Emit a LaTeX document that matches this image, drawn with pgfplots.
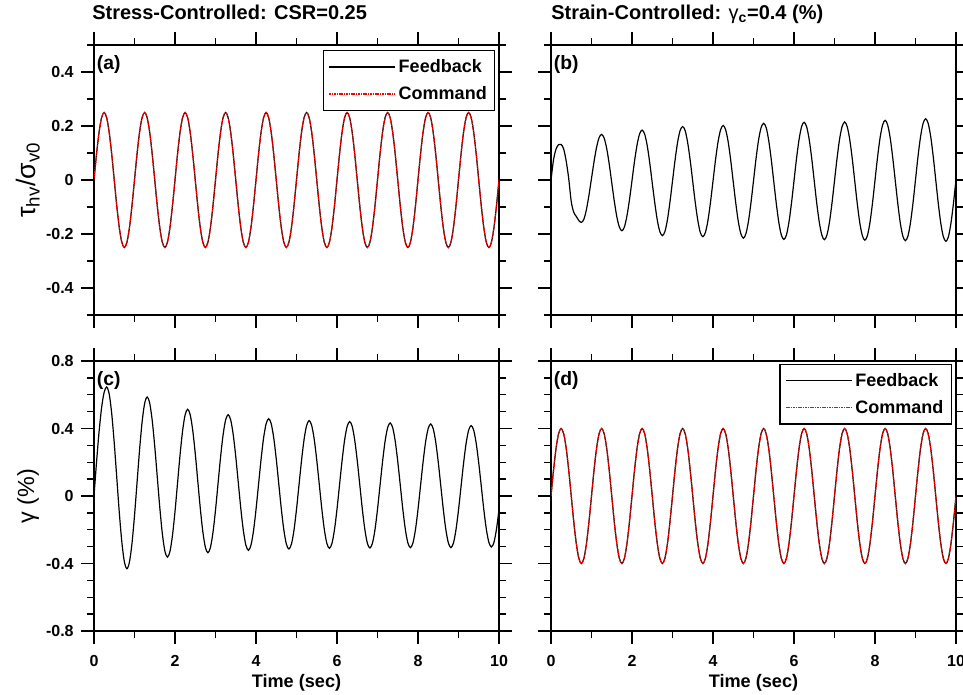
\documentclass[border=0pt]{standalone}
\usepackage{fontspec}
\setmainfont{Liberation Sans}
\usepackage{pgfplots}
\pgfplotsset{compat=1.18}
\usepackage{pgfplotstable}

% t: time (sec); a: tau/sigma (stress-controlled); b: tau/sigma (strain-controlled)
% c: gamma % (stress-controlled); d: gamma % (strain-controlled)
\pgfplotstableread{
t a b c d
0 0 0 0 0
0.0625 0.0957 0.075 0.200 0.1531
0.125 0.1768 0.115 0.380 0.2828
0.1875 0.2310 0.131 0.523 0.3696
0.25 0.2500 0.132 0.614 0.4000
0.3125 0.2310 0.115 0.646 0.3696
0.375 0.1768 0.070 0.605 0.2828
0.4375 0.0957 0.005 0.488 0.1531
0.5 0 -0.080 0.314 0
0.5625 -0.0957 -0.120 0.108 -0.1531
0.625 -0.1768 -0.135 -0.099 -0.2828
0.6875 -0.2310 -0.150 -0.273 -0.3696
0.75 -0.2500 -0.157 -0.390 -0.4000
0.8125 -0.2310 -0.145 -0.431 -0.3696
0.875 -0.1768 -0.109 -0.392 -0.2828
0.9375 -0.0957 -0.056 -0.282 -0.1531
1.0 0 0.006 -0.117 0
1.0625 0.0957 0.068 0.078 0.1531
1.125 0.1768 0.121 0.273 0.2828
1.1875 0.2310 0.157 0.438 0.3696
1.25 0.2500 0.169 0.548 0.4000
1.3125 0.2310 0.155 0.587 0.3696
1.375 0.1768 0.117 0.551 0.2828
1.4375 0.0957 0.059 0.448 0.1531
1.5 0 -0.010 0.294 0
1.5625 -0.0957 -0.078 0.113 -0.1531
1.625 -0.1768 -0.136 -0.069 -0.2828
1.6875 -0.2310 -0.174 -0.223 -0.3696
1.75 -0.2500 -0.188 -0.326 -0.4000
1.8125 -0.2310 -0.174 -0.362 -0.3696
1.875 -0.1768 -0.133 -0.329 -0.2828
1.9375 -0.0957 -0.073 -0.234 -0.1531
2.0 0 -0.002 -0.092 0
2.0625 0.0957 0.070 0.076 0.1531
2.125 0.1768 0.130 0.244 0.2828
2.1875 0.2310 0.171 0.386 0.3696
2.25 0.2500 0.185 0.481 0.4000
2.3125 0.2310 0.170 0.514 0.3696
2.375 0.1768 0.128 0.482 0.2828
2.4375 0.0957 0.064 0.390 0.1531
2.5 0 -0.011 0.252 0
2.5625 -0.0957 -0.085 0.089 -0.1531
2.625 -0.1768 -0.149 -0.074 -0.2828
2.6875 -0.2310 -0.191 -0.212 -0.3696
2.75 -0.2500 -0.206 -0.304 -0.4000
2.8125 -0.2310 -0.191 -0.336 -0.3696
2.875 -0.1768 -0.147 -0.305 -0.2828
2.9375 -0.0957 -0.081 -0.216 -0.1531
3.0 0 -0.004 -0.084 0
3.0625 0.0957 0.073 0.073 0.1531
3.125 0.1768 0.139 0.230 0.2828
3.1875 0.2310 0.183 0.362 0.3696
3.25 0.2500 0.198 0.451 0.4000
3.3125 0.2310 0.183 0.482 0.3696
3.375 0.1768 0.138 0.451 0.2828
3.4375 0.0957 0.072 0.364 0.1531
3.5 0 -0.006 0.234 0
3.5625 -0.0957 -0.084 0.080 -0.1531
3.625 -0.1768 -0.150 -0.074 -0.2828
3.6875 -0.2310 -0.195 -0.204 -0.3696
3.75 -0.2500 -0.210 -0.291 -0.4000
3.8125 -0.2310 -0.194 -0.322 -0.3696
3.875 -0.1768 -0.150 -0.292 -0.2828
3.9375 -0.0957 -0.083 -0.208 -0.1531
4.0 0 -0.004 -0.081 0
4.0625 0.0957 0.075 0.068 0.1531
4.125 0.1768 0.142 0.217 0.2828
4.1875 0.2310 0.186 0.344 0.3696
4.25 0.2500 0.202 0.428 0.4000
4.3125 0.2310 0.186 0.458 0.3696
4.375 0.1768 0.141 0.429 0.2828
4.4375 0.0957 0.073 0.345 0.1531
4.5 0 -0.007 0.220 0
4.5625 -0.0957 -0.086 0.072 -0.1531
4.625 -0.1768 -0.154 -0.076 -0.2828
4.6875 -0.2310 -0.199 -0.201 -0.3696
4.75 -0.2500 -0.215 -0.285 -0.4000
4.8125 -0.2310 -0.199 -0.314 -0.3696
4.875 -0.1768 -0.153 -0.285 -0.2828
4.9375 -0.0957 -0.084 -0.203 -0.1531
5.0 0 -0.003 -0.079 0
5.0625 0.0957 0.079 0.067 0.1531
5.125 0.1768 0.148 0.212 0.2828
5.1875 0.2310 0.194 0.336 0.3696
5.25 0.2500 0.210 0.418 0.4000
5.3125 0.2310 0.194 0.447 0.3696
5.375 0.1768 0.147 0.418 0.2828
5.4375 0.0957 0.077 0.336 0.1531
5.5 0 -0.005 0.213 0
5.5625 -0.0957 -0.087 0.069 -0.1531
5.625 -0.1768 -0.157 -0.076 -0.2828
5.6875 -0.2310 -0.204 -0.199 -0.3696
5.75 -0.2500 -0.220 -0.281 -0.4000
5.8125 -0.2310 -0.204 -0.310 -0.3696
5.875 -0.1768 -0.156 -0.281 -0.2828
5.9375 -0.0957 -0.086 -0.200 -0.1531
6.0 0 -0.003 -0.078 0
6.0625 0.0957 0.080 0.066 0.1531
6.125 0.1768 0.150 0.209 0.2828
6.1875 0.2310 0.198 0.331 0.3696
6.25 0.2500 0.214 0.412 0.4000
6.3125 0.2310 0.197 0.441 0.3696
6.375 0.1768 0.150 0.413 0.2828
6.4375 0.0957 0.080 0.331 0.1531
6.5 0 -0.004 0.210 0
6.5625 -0.0957 -0.087 0.067 -0.1531
6.625 -0.1768 -0.157 -0.077 -0.2828
6.6875 -0.2310 -0.204 -0.198 -0.3696
6.75 -0.2500 -0.221 -0.280 -0.4000
6.8125 -0.2310 -0.204 -0.308 -0.3696
6.875 -0.1768 -0.157 -0.280 -0.2828
6.9375 -0.0957 -0.086 -0.200 -0.1531
7.0 0 -0.003 -0.079 0
7.0625 0.0957 0.080 0.063 0.1531
7.125 0.1768 0.151 0.204 0.2828
7.1875 0.2310 0.198 0.325 0.3696
7.25 0.2500 0.215 0.405 0.4000
7.3125 0.2310 0.198 0.433 0.3696
7.375 0.1768 0.151 0.405 0.2828
7.4375 0.0957 0.080 0.325 0.1531
7.5 0 -0.004 0.205 0
7.5625 -0.0957 -0.088 0.064 -0.1531
7.625 -0.1768 -0.159 -0.078 -0.2828
7.6875 -0.2310 -0.206 -0.198 -0.3696
7.75 -0.2500 -0.223 -0.278 -0.4000
7.8125 -0.2310 -0.206 -0.306 -0.3696
7.875 -0.1768 -0.158 -0.278 -0.2828
7.9375 -0.0957 -0.086 -0.199 -0.1531
8.0 0 -0.001 -0.080 0
8.0625 0.0957 0.084 0.061 0.1531
8.125 0.1768 0.156 0.201 0.2828
8.1875 0.2310 0.204 0.320 0.3696
8.25 0.2500 0.221 0.399 0.4000
8.3125 0.2310 0.204 0.427 0.3696
8.375 0.1768 0.156 0.399 0.2828
8.4375 0.0957 0.083 0.320 0.1531
8.5 0 -0.002 0.201 0
8.5625 -0.0957 -0.087 0.061 -0.1531
8.625 -0.1768 -0.160 -0.080 -0.2828
8.6875 -0.2310 -0.208 -0.199 -0.3696
8.75 -0.2500 -0.225 -0.278 -0.4000
8.8125 -0.2310 -0.208 -0.306 -0.3696
8.875 -0.1768 -0.159 -0.279 -0.2828
8.9375 -0.0957 -0.086 -0.200 -0.1531
9.0 0 0.001 -0.083 0
9.0625 0.0957 0.088 0.056 0.1531
9.125 0.1768 0.161 0.194 0.2828
9.1875 0.2310 0.210 0.311 0.3696
9.25 0.2500 0.227 0.390 0.4000
9.3125 0.2310 0.210 0.417 0.3696
9.375 0.1768 0.161 0.390 0.2828
9.4375 0.0957 0.087 0.312 0.1531
9.5 0 0.000 0.195 0
9.5625 -0.0957 -0.087 0.058 -0.1531
9.625 -0.1768 -0.161 -0.080 -0.2828
9.6875 -0.2310 -0.210 -0.197 -0.3696
9.75 -0.2500 -0.227 -0.275 -0.4000
9.8125 -0.2310 -0.210 -0.302 -0.3696
9.875 -0.1768 -0.160 -0.275 -0.2828
9.9375 -0.0957 -0.086 -0.197 -0.1531
10.0 0 0.002 -0.081 0
}\data

\tikzset{
  fb/.style={draw=black, line width=0.9pt},
  cmd/.style={draw=red, line width=0.9pt, dash pattern=on 1.2pt off 0.6pt},
}
\pgfplotsset{
  panel/.style={
    scale only axis, width=303.75pt, height=202.5pt,
    xmin=0, xmax=10, xtick={0,2,4,6,8,10}, minor xtick={1,3,5,7,9},
    tick align=outside,
    major tick length=9.75pt, minor tick length=5.25pt,
    axis line style={line width=1.1pt},
    tick style={black, line width=1.1pt},
    tick label style={font=\bfseries\fontsize{12}{14}\selectfont},
    xticklabel style={yshift=-5pt},
    yticklabel style={xshift=-2pt},
    /pgf/number format/assume math mode=true,
    legend style={draw=black, line width=0.9pt,
      font=\bfseries\fontsize{13.5}{15}\selectfont,
      inner xsep=4pt, inner ysep=4.5pt, row sep=5pt, cells={anchor=west}},
  },
  fbleg/.style={legend image code/.code={\draw[color=black, line width=0.9pt] (0pt,0pt) -- (49.5pt,0pt);}},
  cmdleg/.style={legend image code/.code={\draw[color=red, draw=red, line width=1pt, dash pattern=on 1.2pt off 0.6pt] (0pt,0pt) -- (49.5pt,0pt);}},
}

\begin{document}
\begin{tikzpicture}
% (a)
\begin{axis}[panel, name=A, at={(0pt,0pt)}, anchor=north west,
  ymin=-0.5, ymax=0.5, ytick={-0.4,-0.2,0,0.2,0.4},
  minor ytick={-0.5,-0.3,-0.1,0.1,0.3,0.5},
  xticklabels={},
  ylabel={τ\textsubscript{hv}/σ\textsubscript{v0}},
  ylabel style={at={(axis description cs:-0.163,0.5)}, anchor=center, font=\fontsize{20}{22}\selectfont},
  legend style={at={(rel axis cs:0.991,0.981)}, anchor=north east}]
\addplot[fb, smooth, fbleg] table[x=t,y=a]{\data};
\addlegendentry{Feedback}
\addplot[cmd, smooth, cmdleg] table[x=t,y=a]{\data};
\addlegendentry{Command}
\end{axis}
% (b)
\begin{axis}[panel, name=B, at={(342.75pt,0pt)}, anchor=north west,
  ymin=-0.5, ymax=0.5, ytick={-0.4,-0.2,0,0.2,0.4},
  minor ytick={-0.5,-0.3,-0.1,0.1,0.3,0.5},
  xticklabels={}, yticklabels={}]
\addplot[fb, smooth] table[x=t,y=b]{\data};
\end{axis}
% (c)
\begin{axis}[panel, name=C, at={(0pt,-237pt)}, anchor=north west,
  ymin=-0.8, ymax=0.8, ytick={-0.8,-0.4,0,0.4,0.8},
  minor ytick={-0.7,-0.6,-0.5,-0.3,-0.2,-0.1,0.1,0.2,0.3,0.5,0.6,0.7},
  xlabel={Time (sec)},
  xlabel style={font=\bfseries\fontsize{13.6}{15}\selectfont, yshift=1pt},
  ylabel={γ (\%)},
  ylabel style={at={(axis description cs:-0.163,0.5)}, anchor=center, font=\fontsize{17.5}{19}\selectfont}]
\addplot[fb, smooth] table[x=t,y=c]{\data};
\end{axis}
% (d)
\begin{axis}[panel, name=D, at={(342.75pt,-237pt)}, anchor=north west,
  ymin=-0.8, ymax=0.8, ytick={-0.8,-0.4,0,0.4,0.8},
  minor ytick={-0.7,-0.6,-0.5,-0.3,-0.2,-0.1,0.1,0.2,0.3,0.5,0.6,0.7},
  yticklabels={},
  xlabel={Time (sec)},
  xlabel style={font=\bfseries\fontsize{13.6}{15}\selectfont, yshift=1pt},
  legend style={at={(rel axis cs:0.990,0.989)}, anchor=north east}]
\addplot[fb, smooth, fbleg] table[x=t,y=d]{\data};
\addlegendentry{Feedback}
\addplot[cmd, smooth, cmdleg] table[x=t,y=d]{\data};
\addlegendentry{Command}
\end{axis}
% panel tags
\node[anchor=north west, inner sep=0pt, font=\bfseries\fontsize{14.5}{16}\selectfont] at ([xshift=2pt,yshift=-7.5pt]A.north west) {(a)};
\node[anchor=north west, inner sep=0pt, font=\bfseries\fontsize{14.5}{16}\selectfont] at ([xshift=2pt,yshift=-7.5pt]B.north west) {(b)};
\node[anchor=north west, inner sep=0pt, font=\bfseries\fontsize{14.5}{16}\selectfont] at ([xshift=2pt,yshift=-7.5pt]C.north west) {(c)};
\node[anchor=north west, inner sep=0pt, font=\bfseries\fontsize{14.5}{16}\selectfont] at ([xshift=2pt,yshift=-7.5pt]D.north west) {(d)};
% titles
\node[anchor=base west, inner sep=0pt, font=\bfseries\fontsize{15}{17}\selectfont] at ([xshift=-1.5pt,yshift=19.3pt]A.north west) {Stress-Controlled: CSR=0.25};
\node[anchor=base west, inner sep=0pt, font=\bfseries\fontsize{15}{17}\selectfont] at ([xshift=0pt,yshift=19.3pt]B.north west) {Strain-Controlled: {\mdseries γ}\textsubscript{c}=0.4 (\%)};
\pgfresetboundingbox
\path (-70.5pt,33.75pt) rectangle (651.75pt,-486.75pt);
\end{tikzpicture}
\end{document}
